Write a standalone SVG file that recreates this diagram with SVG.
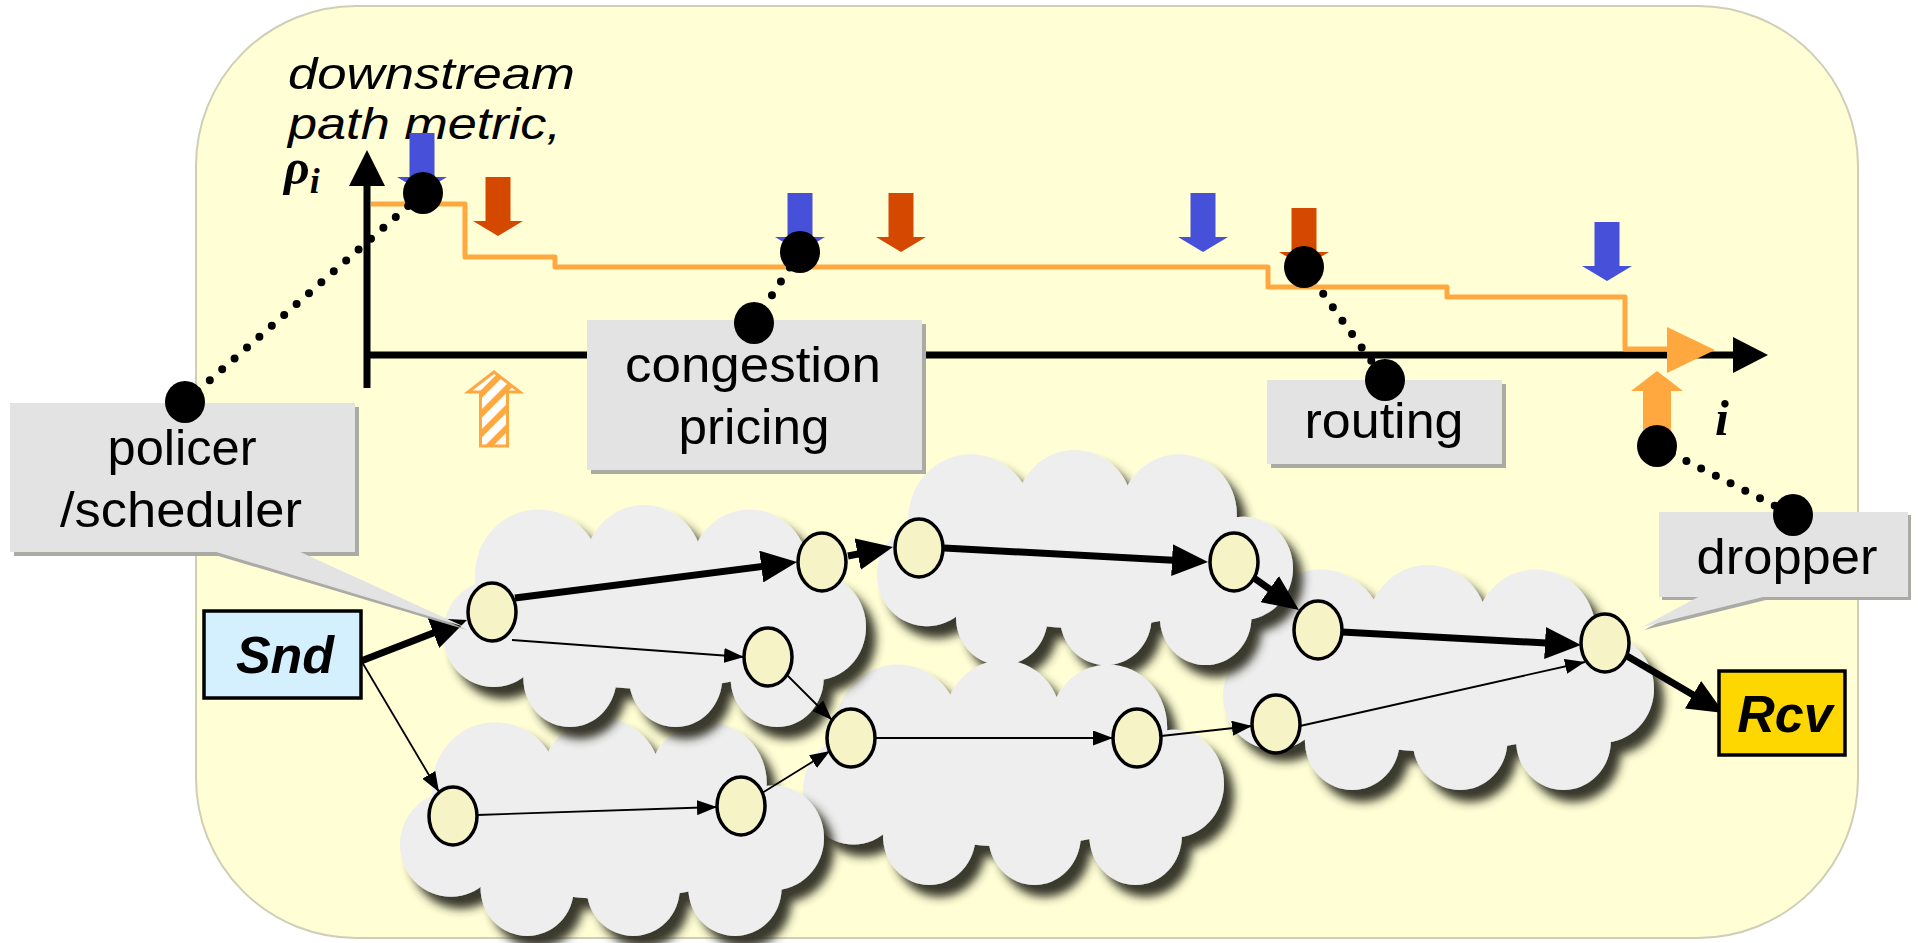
<svg xmlns="http://www.w3.org/2000/svg" xmlns:xlink="http://www.w3.org/1999/xlink" width="1918" height="943" viewBox="0 0 1918 943">
<style>
.lbl{font-family:"Liberation Sans",Arial,sans-serif;font-size:50px;fill:#000;text-anchor:middle}
.ax{font-family:"Liberation Sans",Arial,sans-serif;font-size:44px;font-style:italic;fill:#000}
.sym{font-family:"Liberation Serif","Times New Roman",serif;font-weight:bold;font-style:italic;fill:#000}
.term{font-family:"Liberation Sans",Arial,sans-serif;font-size:52px;font-weight:bold;font-style:italic;fill:#000;text-anchor:middle}
.node{fill:#F6F4C6;stroke:#000;stroke-width:3.5}
.thick{stroke:#000;stroke-width:7;fill:none;marker-end:url(#bigHead)}
.thin{stroke:#000;stroke-width:1.8;fill:none;marker-end:url(#smallHead)}
.lead{stroke:#000;stroke-width:8;stroke-linecap:round;stroke-dasharray:0 16.5;fill:none}
.dot{fill:#000}
.box{fill:#E3E3E3}
.boxsh{fill:#ABABA5}
.blue{fill:#4650D8}
.red{fill:#D54800}
.orange{fill:#FFA840}
.cloud{fill:#EEEEEE}
</style>
<defs>
<marker id="bigHead" markerUnits="userSpaceOnUse" markerWidth="36" markerHeight="32" refX="24" refY="16" orient="auto">
<path d="M0,0 L36,16 L0,32 z" fill="#000"/>
</marker>
<marker id="smallHead" markerUnits="userSpaceOnUse" markerWidth="20" markerHeight="15" refX="20" refY="7.5" orient="auto">
<path d="M0,0 L20,7.5 L0,15 z" fill="#000"/>
</marker>
<filter id="sh" x="-10%" y="-10%" width="130%" height="140%">
<feGaussianBlur in="SourceAlpha" stdDeviation="5"/>
<feOffset dx="10" dy="12" result="b"/>
<feFlood flood-color="#2E2E22" flood-opacity="0.95"/>
<feComposite in2="b" operator="in"/>
<feMerge><feMergeNode/><feMergeNode in="SourceGraphic"/></feMerge>
</filter>
<pattern id="hatch" width="14" height="14" patternUnits="userSpaceOnUse" patternTransform="rotate(45)">
<rect width="14" height="14" fill="#fff"/>
<rect width="6" height="14" fill="#FFA840"/>
</pattern>
<g id="cloudShape">
<circle cx="45" cy="32" r="30"/>
<circle cx="95" cy="28" r="28"/>
<circle cx="145" cy="30" r="28"/>
<circle cx="176" cy="55" r="24"/>
<circle cx="158" cy="78" r="22"/>
<circle cx="110" cy="78" r="22"/>
<circle cx="60" cy="78" r="22"/>
<circle cx="24" cy="58" r="24"/>
<ellipse cx="100" cy="55" rx="75" ry="28"/>
</g>
<path id="downArrow" d="M-12.5,0 H12.5 V44 H25 L0,59 L-25,44 H-12.5 z"/>
</defs>

<g id="background">
<rect x="196" y="6" width="1662" height="932" rx="160" ry="160" fill="#FFFED5" stroke="#CFCFB8" stroke-width="2"/>
</g>

<g id="axes">
<line x1="367" y1="388" x2="367" y2="182" stroke="#000" stroke-width="7"/>
<polygon points="367,150 349,186 385,186" fill="#000"/>
<line x1="364" y1="355" x2="1740" y2="355" stroke="#000" stroke-width="7"/>
<polygon points="1768,355 1733,337 1733,373" fill="#000"/>
<text class="ax" x="288" y="89" textLength="287" lengthAdjust="spacingAndGlyphs">downstream</text>
<text class="ax" x="288" y="138.5" textLength="273" lengthAdjust="spacingAndGlyphs">path metric,</text>
<text class="sym" x="284" y="184" font-size="50">ρ<tspan font-size="36" dy="9">i</tspan></text>
<text class="sym" x="1715" y="435" font-size="50">i</text>
</g>

<g id="metric">
<path d="M371,204 H465 V257 H555 V267 H1268 V287 H1447 V297 H1625 V349 H1672" fill="none" stroke="#FFA840" stroke-width="5" stroke-linejoin="round"/>
<polygon class="orange" points="1667,327 1715,350 1667,373"/>
</g>

<g id="priceArrows">
<use xlink:href="#downArrow" class="blue" transform="translate(422,133)"/>
<use xlink:href="#downArrow" class="red" transform="translate(498,177)"/>
<use xlink:href="#downArrow" class="blue" transform="translate(800,193)"/>
<use xlink:href="#downArrow" class="red" transform="translate(901,193)"/>
<use xlink:href="#downArrow" class="blue" transform="translate(1203,193)"/>
<use xlink:href="#downArrow" class="red" transform="translate(1304,208)"/>
<use xlink:href="#downArrow" class="blue" transform="translate(1607,222)"/>
</g>

<g id="upArrows">
<polygon points="494,372 520,392 507.5,392 507.5,446 480.5,446 480.5,392 468,392" fill="url(#hatch)" stroke="#FFA840" stroke-width="3" stroke-linejoin="miter"/>
<polygon class="orange" points="1657,371 1683,391 1671,391 1671,440 1643,440 1643,391 1631,391"/>
</g>

<g id="clouds">
<g id="cloud3" filter="url(#sh)"><use xlink:href="#cloudShape" class="cloud" transform="translate(1223,565) scale(2.155,2.25)"/></g>
<g id="cloud2" filter="url(#sh)"><use xlink:href="#cloudShape" class="cloud" transform="translate(877,450) scale(2.08,2.15)"/></g>
<g id="cloud4" filter="url(#sh)"><use xlink:href="#cloudShape" class="cloud" transform="translate(803,660) scale(2.105,2.25)"/></g>
<g id="cloud5" filter="url(#sh)"><use xlink:href="#cloudShape" class="cloud" transform="translate(400,718) scale(2.12,2.18)"/></g>
<g id="cloud1" filter="url(#sh)"><use xlink:href="#cloudShape" class="cloud" transform="translate(443,505) scale(2.115,2.22)"/></g>
</g>

<g id="connectors">
<line class="thick" x1="361" y1="661" x2="455.8" y2="624.3"/>
<line class="thick" x1="515" y1="598" x2="785.1" y2="563.5"/>
<line class="thick" x1="848" y1="556" x2="881.2" y2="549.4"/>
<line class="thick" x1="944" y1="548" x2="1196" y2="561.4"/>
<line class="thick" x1="1254" y1="578" x2="1289.2" y2="603"/>
<line class="thick" x1="1342" y1="632" x2="1569" y2="644.3"/>
<line class="thick" x1="1627" y1="656" x2="1713.7" y2="706.9"/>
<line class="thin" x1="362" y1="662" x2="439" y2="792"/>
<line class="thin" x1="512" y1="640" x2="744" y2="657"/>
<line class="thin" x1="787" y1="675" x2="832" y2="720"/>
<line class="thin" x1="477" y1="815" x2="717" y2="807"/>
<line class="thin" x1="762" y1="793" x2="830" y2="751"/>
<line class="thin" x1="875" y1="738" x2="1113" y2="738"/>
<line class="thin" x1="1161" y1="736" x2="1252" y2="726"/>
<line class="thin" x1="1300" y1="726" x2="1585" y2="662"/>
</g>

<g id="N1"><ellipse class="node" cx="492" cy="612" rx="24" ry="29"/></g>
<g id="N3"><ellipse class="node" cx="822" cy="562" rx="24" ry="29"/></g>
<g id="N6"><ellipse class="node" cx="768" cy="657" rx="24" ry="29"/></g>
<g id="N4"><ellipse class="node" cx="919" cy="548" rx="24" ry="29"/></g>
<g id="N5"><ellipse class="node" cx="1234" cy="562" rx="24" ry="29"/></g>
<g id="N7"><ellipse class="node" cx="851" cy="738" rx="24" ry="29"/></g>
<g id="N8"><ellipse class="node" cx="1137" cy="738" rx="24" ry="29"/></g>
<g id="N9"><ellipse class="node" cx="741" cy="806" rx="24" ry="29"/></g>
<g id="N13"><ellipse class="node" cx="453" cy="816" rx="24" ry="29"/></g>
<g id="N10"><ellipse class="node" cx="1276" cy="724" rx="24" ry="29"/></g>
<g id="N11"><ellipse class="node" cx="1318" cy="630" rx="24" ry="29"/></g>
<g id="N12"><ellipse class="node" cx="1605" cy="643" rx="24" ry="29"/></g>

<g id="Snd">
<rect x="204" y="611" width="157" height="87" fill="#D4F0FF" stroke="#000" stroke-width="3.5"/>
<text class="term" x="285" y="673">Snd</text>
</g>
<g id="Rcv">
<rect x="1719" y="671" width="126" height="84" fill="#FFD700" stroke="#000" stroke-width="3.5"/>
<text class="term" x="1785" y="732">Rcv</text>
</g>

<g id="callout-policer">
<rect class="boxsh" x="14" y="407" width="345" height="149"/>
<polygon class="boxsh" points="215,555 301,555 467,630"/>
<rect class="box" x="10" y="403" width="345" height="149"/>
<polygon class="box" points="213,551 298,551 465,627"/>
<text class="lbl" x="182" y="465" textLength="149" lengthAdjust="spacingAndGlyphs">policer</text>
<text class="lbl" x="181" y="527" textLength="242" lengthAdjust="spacingAndGlyphs">/scheduler</text>
</g>
<g id="callout-congestion">
<rect class="boxsh" x="591" y="324" width="335" height="150"/>
<rect class="box" x="587" y="320" width="335" height="150"/>
<text class="lbl" x="753" y="382" textLength="256" lengthAdjust="spacingAndGlyphs">congestion</text>
<text class="lbl" x="754" y="444" textLength="151" lengthAdjust="spacingAndGlyphs">pricing</text>
</g>
<g id="callout-routing">
<rect class="boxsh" x="1271" y="384" width="235" height="84"/>
<rect class="box" x="1267" y="380" width="235" height="84"/>
<text class="lbl" x="1384" y="438" textLength="159" lengthAdjust="spacingAndGlyphs">routing</text>
</g>
<g id="callout-dropper">
<rect class="boxsh" x="1662" y="515" width="249" height="85"/>
<polygon class="boxsh" points="1702,599 1770,599 1644,630"/>
<rect class="box" x="1659" y="512" width="249" height="85"/>
<polygon class="box" points="1700,596 1767,596 1642,627"/>
<text class="lbl" x="1787" y="574" textLength="181" lengthAdjust="spacingAndGlyphs">dropper</text>
</g>

<g id="leaders">
<line class="lead" x1="185" y1="402" x2="423" y2="193"/>
<line class="lead" x1="754" y1="323" x2="800" y2="252"/>
<line class="lead" x1="1304" y1="267" x2="1385" y2="380"/>
<line class="lead" x1="1657" y1="446" x2="1793" y2="515"/>
<ellipse class="dot" cx="423" cy="193" rx="20" ry="21"/>
<ellipse class="dot" cx="185" cy="402" rx="20" ry="21"/>
<ellipse class="dot" cx="800" cy="252" rx="20" ry="21"/>
<ellipse class="dot" cx="754" cy="323" rx="20" ry="21"/>
<ellipse class="dot" cx="1304" cy="267" rx="20" ry="21"/>
<ellipse class="dot" cx="1385" cy="380" rx="20" ry="21"/>
<ellipse class="dot" cx="1657" cy="446" rx="20" ry="21"/>
<ellipse class="dot" cx="1793" cy="515" rx="20" ry="21"/>
</g>
</svg>
